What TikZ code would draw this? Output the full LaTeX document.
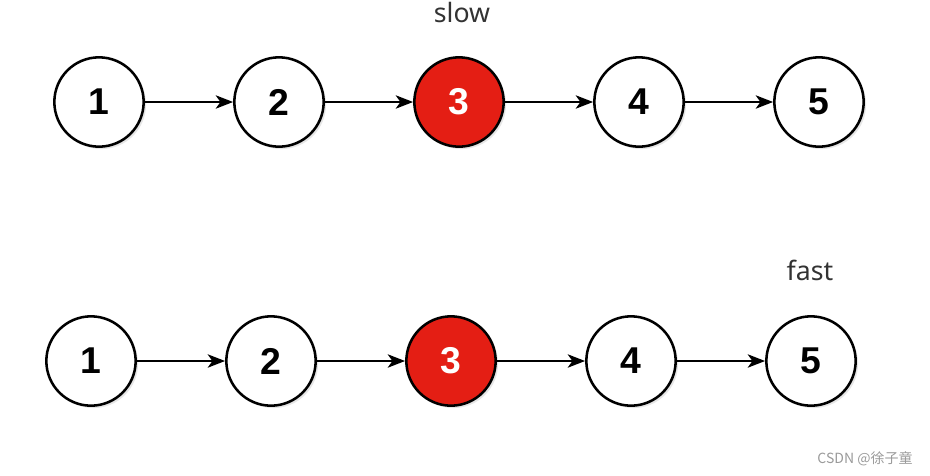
\documentclass[tikz,border=0pt]{standalone}
\usepackage{fontspec}
\setmainfont{Liberation Sans}
\newfontfamily\labelfont{Noto Sans}
\newfontfamily\cjkfont{Noto Sans CJK SC}
\usetikzlibrary{arrows.meta,shadows}
\definecolor{nodered}{HTML}{E41E14}
\definecolor{labelgray}{HTML}{333333}
\definecolor{wmgray}{HTML}{9A9A9A}
\begin{document}
\begin{tikzpicture}[x=0.75pt,y=-0.75pt,
  listnode/.style={circle,draw=black,line width=1.9pt,fill=white,minimum size=67pt,inner sep=0pt,
    font=\fontsize{28}{28}\selectfont\bfseries,
    drop shadow={opacity=0.2,shadow xshift=1.8pt,shadow yshift=-1.8pt}},
  hotnode/.style={listnode,fill=nodered,text=white},
  link/.style={line width=1.7pt,-{Stealth[length=13pt,width=10pt,inset=3.5pt]}},
  ptrlabel/.style={font=\labelfont\fontsize{20}{20}\selectfont,text=labelgray}]
\useasboundingbox (0,0) rectangle (930,475);
% top row
\node[listnode] (a1) at (99,102) {1};
\node[listnode] (a2) at (279,102) {2};
\node[hotnode]  (a3) at (459,102) {3};
\node[listnode] (a4) at (639,102) {4};
\node[listnode] (a5) at (819,102) {5};
\foreach \i/\j in {a1/a2,a2/a3,a3/a4,a4/a5} \draw[link] (\i) -- (\j);
\node[ptrlabel] (slow) at (462,12) {slow};
% bottom row
\node[listnode] (b1) at (91,361) {1};
\node[listnode] (b2) at (271,361) {2};
\node[hotnode]  (b3) at (451,361) {3};
\node[listnode] (b4) at (631,361) {4};
\node[listnode] (b5) at (811,361) {5};
\foreach \i/\j in {b1/b2,b2/b3,b3/b4,b4/b5} \draw[link] (\i) -- (\j);
\node[ptrlabel] (fast) at (810,270) {fast};
\node[font=\cjkfont\fontsize{10.5}{10.5}\selectfont,text=wmgray] (wm) at (865,459) {CSDN @徐子童};
\end{tikzpicture}
\end{document}
